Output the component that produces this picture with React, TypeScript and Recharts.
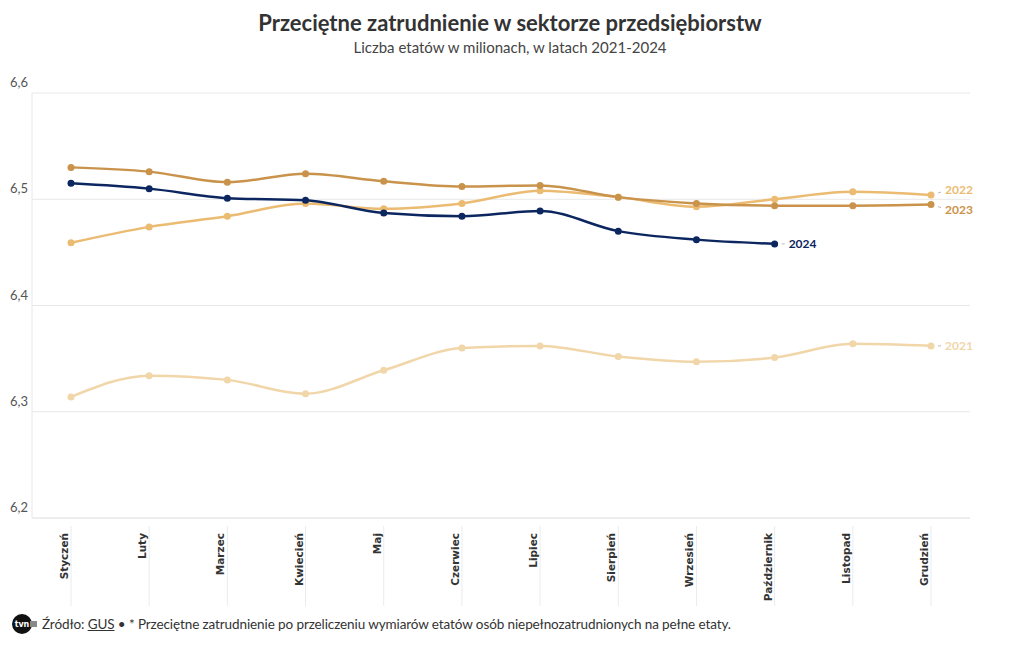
import { LineChart, Line, XAxis, YAxis, CartesianGrid, LabelList } from "recharts";

const months = [
  "Styczeń", "Luty", "Marzec", "Kwiecień", "Maj", "Czerwiec",
  "Lipiec", "Sierpień", "Wrzesień", "Październik", "Listopad", "Grudzień",
];

const y2021 = [6.314, 6.334, 6.330, 6.317, 6.339, 6.360, 6.362, 6.352, 6.347, 6.351, 6.364, 6.362];
const y2022 = [6.459, 6.474, 6.484, 6.496, 6.491, 6.496, 6.508, 6.502, 6.493, 6.500, 6.507, 6.504];
const y2023 = [6.530, 6.526, 6.516, 6.524, 6.517, 6.512, 6.513, 6.502, 6.496, 6.494, 6.494, 6.495];
const y2024 = [6.515, 6.510, 6.501, 6.499, 6.487, 6.484, 6.489, 6.470, 6.462, 6.458, null, null];

const yTicks = [6.2, 6.3, 6.4, 6.5, 6.6];

const data = months.map((m, i) => ({
  month: m,
  y2021: y2021[i],
  y2022: y2022[i],
  y2023: y2023[i],
  y2024: y2024[i],
}));

const C2021 = "#f1d6a9";
const C2022 = "#ebbb72";
const C2023 = "#c9934b";
const C2024 = "#0c2660";

const FONT = "Lato, 'Open Sans', sans-serif";

function XTick({ x, y, payload }: any) {
  return (
    <g>
      <line x1={x} x2={x} y1={y} y2={y + 80} stroke="#ececec" />
      <text
        x={x - 3}
        y={y + 7}
        transform={`rotate(-90 ${x - 3} ${y + 7})`}
        textAnchor="end"
        fontFamily="'DejaVu Sans', sans-serif"
        fontWeight="bold"
        fontSize={10.5}
        fill="#333"
      >
        {payload.value}
      </text>
    </g>
  );
}

function YTick({ y, payload }: any) {
  return (
    <text x={10} y={y - 6} fontFamily={FONT} fontSize={13} fill="#555">
      {String(payload.value.toFixed(1)).replace(".", ",")}
    </text>
  );
}

function endLabel(lastIndex: number, text: string, color: string, dy: number) {
  return (props: any) => {
    const { x, y, index } = props;
    if (index !== lastIndex) return null;
    return (
      <g>
        <line x1={x + 7} x2={x + 10} y1={y + dy * 0.4} y2={y + dy * 0.6} stroke="#bbb" />
        <text x={x + 14} y={y + dy + 4} fontFamily={FONT} fontWeight={700} fontSize={12} fill={color}>
          {text}
        </text>
      </g>
    );
  };
}

export default function App() {
  return (
    <div style={{ position: "absolute", left: 0, top: 0, width: 1020, height: 650, background: "#fff", fontFamily: FONT }}>
      <div style={{ position: "absolute", top: 9, width: 1020, textAlign: "center", fontSize: 22, fontWeight: 700, color: "#333" }}>
        Przeciętne zatrudnienie w sektorze przedsiębiorstw
      </div>
      <div style={{ position: "absolute", top: 38, width: 1020, textAlign: "center", fontSize: 15, color: "#444" }}>
        Liczba etatów w milionach, w latach 2021-2024
      </div>
      <LineChart width={1020} height={650} data={data} margin={{ top: 93, right: 50, bottom: 32, left: 0 }}>
        <CartesianGrid vertical={false} stroke="#e8e8e8" />
        <XAxis
          dataKey="month"
          height={100}
          padding={{ left: 39, right: 39 }}
          axisLine={{ stroke: "#e8e8e8" }}
          tickLine={false}
          tick={<XTick />}
          interval={0}
        />
        <YAxis
          width={32}
          domain={[6.2, 6.6]}
          ticks={yTicks}
          axisLine={{ stroke: "#e8e8e8" }}
          tickLine={false}
          tick={<YTick />}
        />
        <Line type="monotone" dataKey="y2021" stroke={C2021} strokeWidth={2.5} dot={{ r: 3.5, fill: C2021, stroke: C2021, strokeWidth: 0 }} isAnimationActive={false}>
          <LabelList dataKey="y2021" content={endLabel(11, "2021", C2021, 0)} />
        </Line>
        <Line type="monotone" dataKey="y2022" stroke={C2022} strokeWidth={2.5} dot={{ r: 3.5, fill: C2022, stroke: C2022, strokeWidth: 0 }} isAnimationActive={false}>
          <LabelList dataKey="y2022" content={endLabel(11, "2022", C2022, -5)} />
        </Line>
        <Line type="monotone" dataKey="y2023" stroke={C2023} strokeWidth={2.5} dot={{ r: 3.5, fill: C2023, stroke: C2023, strokeWidth: 0 }} isAnimationActive={false}>
          <LabelList dataKey="y2023" content={endLabel(11, "2023", C2023, 5)} />
        </Line>
        <Line type="monotone" dataKey="y2024" stroke={C2024} strokeWidth={2.5} dot={{ r: 3.5, fill: C2024, stroke: C2024, strokeWidth: 0 }} isAnimationActive={false} connectNulls={false}>
          <LabelList dataKey="y2024" content={endLabel(9, "2024", C2024, 0)} />
        </Line>
      </LineChart>
      <div style={{ position: "absolute", left: 12, top: 613, display: "flex", alignItems: "center", fontSize: 13.5, color: "#333", letterSpacing: -0.1 }}>
        <svg width={26} height={22} style={{ marginRight: 4 }}>
          <circle cx={10} cy={11} r={10} fill="#111" />
          <text x={10} y={14} textAnchor="middle" fontSize={8} fontWeight="bold" fill="#fff" fontFamily="'DejaVu Sans', sans-serif">tvn</text>
          <rect x={18} y={8} width={7} height={6} fill="#888" />
        </svg>
        <span>
          Źródło: <span style={{ textDecoration: "underline" }}>GUS</span> • * Przeciętne zatrudnienie po przeliczeniu wymiarów etatów osób niepełnozatrudnionych na pełne etaty.
        </span>
      </div>
    </div>
  );
}
